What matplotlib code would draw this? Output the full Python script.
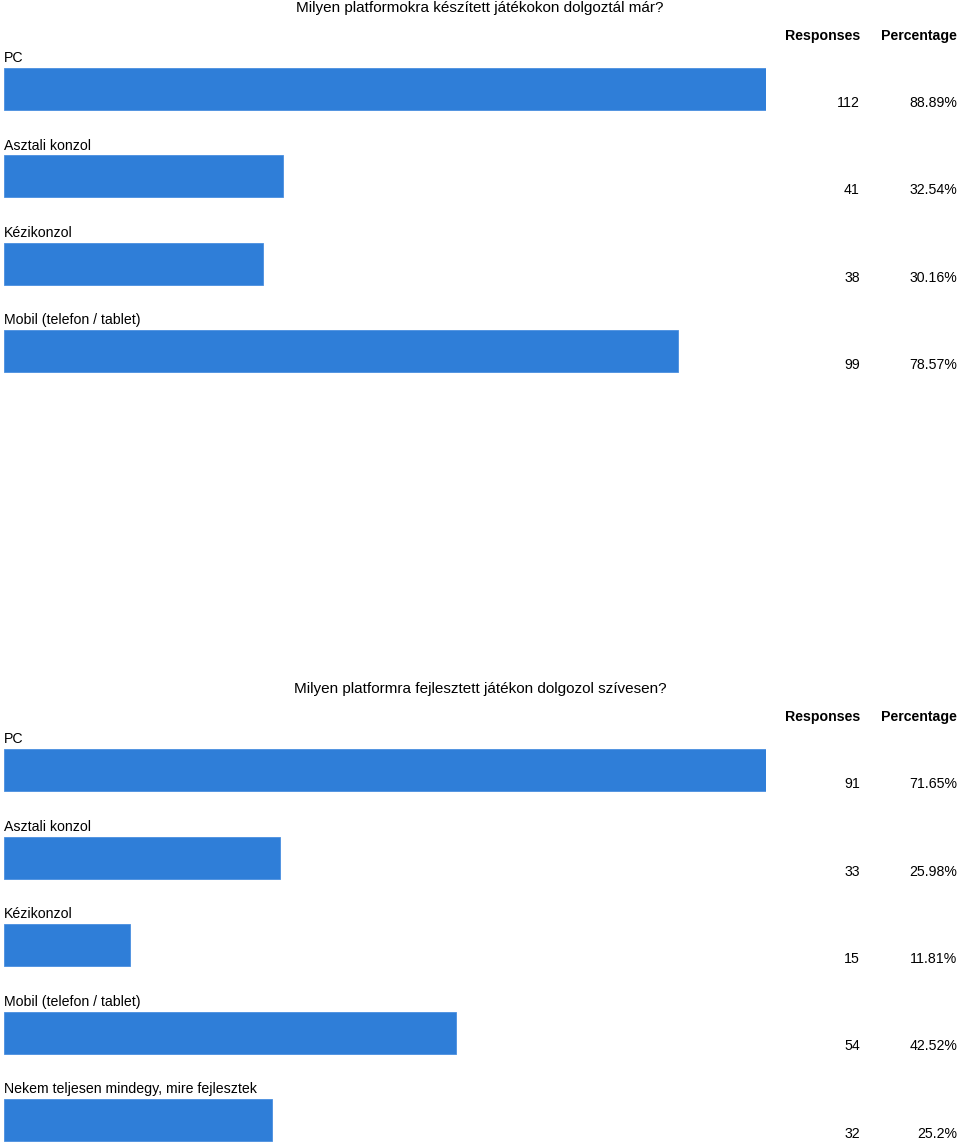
import matplotlib
matplotlib.use("Agg")
import matplotlib.pyplot as plt
from matplotlib.transforms import blended_transform_factory

plt.rcParams['font.family'] = ['Liberation Sans', 'DejaVu Sans']

# Data for the two survey questions
title_1 = "Milyen platformokra készített játékokon dolgoztál már?"
labels_1 = ["PC", "Asztali konzol", "Kézikonzol", "Mobil (telefon / tablet)"]
counts_1 = [112, 41, 38, 99]
percents_1 = ["88.89%", "32.54%", "30.16%", "78.57%"]

title_2 = "Milyen platformra fejlesztett játékon dolgozol szívesen?"
labels_2 = ["PC", "Asztali konzol", "Kézikonzol", "Mobil (telefon / tablet)",
            "Nekem teljesen mindegy, mire fejlesztek"]
counts_2 = [91, 33, 15, 54, 32]
percents_2 = ["71.65%", "25.98%", "11.81%", "42.52%", "25.2%"]

W, H = 960, 1143
bar_color = "#2F7ED8"
fs = 10.2

fig = plt.figure(figsize=(W / 100, H / 100), dpi=100)


def draw_chart(title, labels, counts, percents, c0, pitch, title_y, head_y):
    n = len(labels)
    top = c0 - pitch
    bottom = c0 + pitch * (n - 0.5)
    ax = fig.add_axes([4 / W, 1 - bottom / H, 762 / W, (bottom - top) / H])
    ax.barh(range(n), counts, height=42 / pitch, color=bar_color, edgecolor="#4a8fe0",
            linewidth=0.6)
    ax.set_xlim(0, max(counts))
    ax.set_ylim(n - 0.5, -1)
    ax.axis("off")
    tr = blended_transform_factory(fig.transFigure, ax.transData)
    for i in range(n):
        ax.text(0.01, i - 0.35, labels[i], fontsize=fs, ha="left", va="center", clip_on=False)
        ax.text(860 / W, i + 0.16, str(counts[i]), transform=tr, fontsize=fs,
                ha="right", va="center")
        ax.text(957 / W, i + 0.16, percents[i], transform=tr, fontsize=fs,
                ha="right", va="center")
    fig.text(0.5, 1 - title_y / H, title, fontsize=fs + 0.8, ha="center", va="baseline")
    fig.text(860 / W, 1 - head_y / H, "Responses", fontsize=fs, fontweight="bold",
             ha="right", va="center")
    fig.text(957 / W, 1 - head_y / H, "Percentage", fontsize=fs, fontweight="bold",
             ha="right", va="center")


draw_chart(title_1, labels_1, counts_1, percents_1, 89, 87.33, 12, 36)
draw_chart(title_2, labels_2, counts_2, percents_2, 770, 87.5, 693, 717)

fig.savefig("out.png", dpi=100, facecolor="white")
